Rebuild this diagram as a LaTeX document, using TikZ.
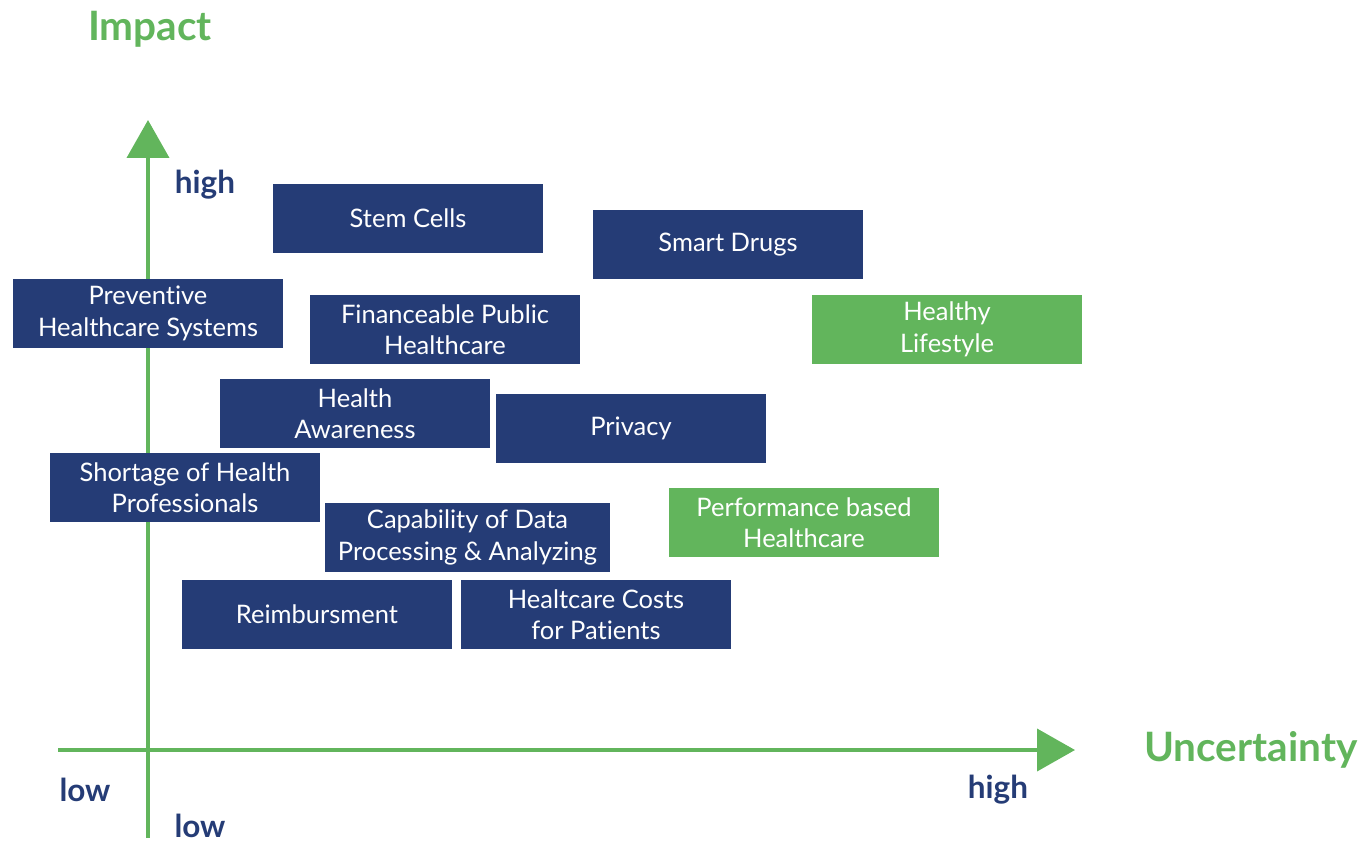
\documentclass[tikz,border=0pt]{standalone}
\usepackage{fontspec}
\setmainfont[Ligatures=NoCommon]{Lato}
\usetikzlibrary{arrows.meta}
\definecolor{navy}{HTML}{253C76}
\definecolor{lgreen}{HTML}{62B55C}
\tikzset{
  boxnode/.style={rectangle, fill=navy, text=white, minimum width=270pt, minimum height=69pt,
    inner sep=0pt, align=center, font=\fontsize{25.5}{31.5}\selectfont},
  greenbox/.style={boxnode, fill=lgreen},
  axisline/.style={draw=lgreen, line width=4pt, -{Triangle[length=38pt,width=42pt]}},
  axislabel/.style={text=lgreen, font=\fontsize{40.5}{44}\selectfont\bfseries},
  ticklabel/.style={text=navy, font=\fontsize{31.5}{34}\selectfont\bfseries},
}
\begin{document}
\begin{tikzpicture}[x=1pt,y=-1pt]
\useasboundingbox (0,0) rectangle (1364,842);
% axes
\coordinate (ybot) at (148,838);
\coordinate (ytop) at (148,120);
\coordinate (xleft) at (58,750);
\coordinate (xright) at (1075,750);
\draw[axisline] (ybot) -- (ytop);
\draw[axisline] (xleft) -- (xright);
% axis labels
\node[axislabel] (impact) at (150,29) {Impact};
\node[axislabel, anchor=east] (uncert) at (1361,750) {Uncertainty};
\node[ticklabel] (yhigh) at (205,185) {high};
\node[ticklabel] (xlow) at (85,790) {low};
\node[ticklabel] (ylow) at (200,826) {low};
\node[ticklabel] (xhigh) at (998,790) {high};
% boxes
\node[boxnode] (stem) at (408,218.5) {Stem Cells};
\node[boxnode] (smart) at (728,244.5) {Smart Drugs};
\node[boxnode] (prev) at (148,313.5) {Preventive\\Healthcare Systems};
\node[boxnode] (fin) at (445,329.5) {Financeable Public\\Healthcare};
\node[greenbox] (healthy) at (947,329.5) {Healthy\\Lifestyle};
\node[boxnode] (aware) at (355,413.5) {Health\\Awareness};
\node[boxnode] (privacy) at (631,428.5) {Privacy};
\node[boxnode] (short) at (185,487.5) {Shortage of Health\\Professionals};
\node[boxnode, minimum width=285pt] (cap) at (467.5,537.5) {Capability of Data\\Processing \& Analyzing};
\node[greenbox] (perf) at (804,522.5) {Performance based\\Healthcare};
\node[boxnode] (reimb) at (317,614) {Reimbursment};
\node[boxnode] (costs) at (596,614.5) {Healtcare Costs\\for Patients};
\end{tikzpicture}
\end{document}
